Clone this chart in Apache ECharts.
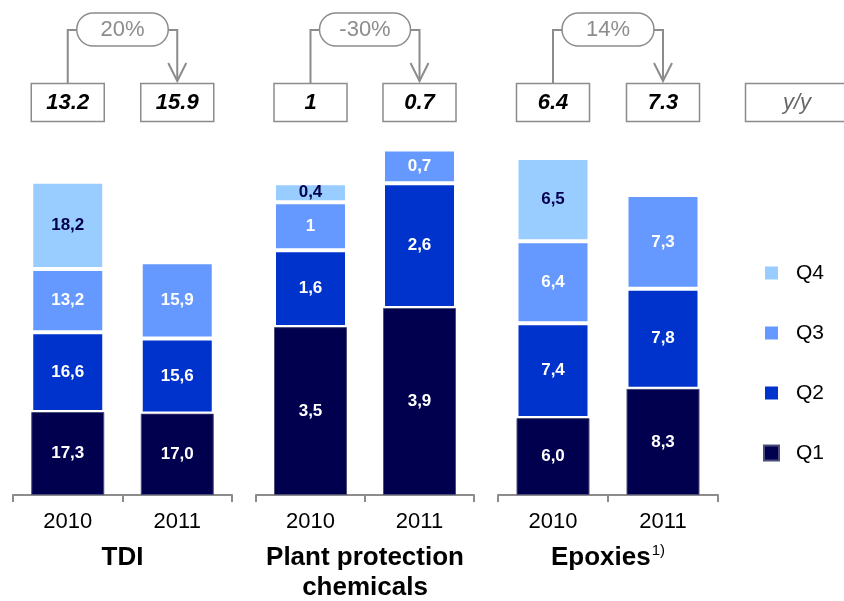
<!DOCTYPE html>
<html>
<head>
<meta charset="utf-8">
<script src="https://cdn.jsdelivr.net/npm/echarts@6/dist/echarts.min.js"></script>
<style>
  html, body { margin: 0; padding: 0; background: #fff; }
  #main { width: 844px; height: 601px; }
</style>
</head>
<body>
<div id="main"></div>
<script>
// data
var years = ['2010', '2011'];
var groupNames = ['TDI', 'Plant protection\nchemicals', 'Epoxies'];
var quarters = ['Q1', 'Q2', 'Q3', 'Q4'];
var q1Values = [[17.3, 17.0], [3.5, 3.9], [6.0, 8.3]];
var q2Values = [[16.6, 15.6], [1.6, 2.6], [7.4, 7.8]];
var q3Values = [[13.2, 15.9], [1, 0.7], [6.4, 7.3]];
var q4Values = [[18.2, null], [0.4, null], [6.5, null]];
var yoyFrom = ['13.2', '1', '6.4'];
var yoyTo = ['15.9', '0.7', '7.3'];
var yoyChange = ['20%', '-30%', '14%'];

var colors = ['#00004f', '#0033cc', '#6699ff', '#99ccff'];
var labelColors = ['#fff', '#fff', '#fff', '#00004f'];
var yMax = [74, 7.4, 27.7];       // each group has its own scale
var labelDecimals = [1, null, 1];
var gridLeft = [13, 256, 498];
var gridWidth = [219, 218, 220];
var gray = '#8c8c8c';
var font = "'Liberation Sans', Arial, sans-serif";

var dom = document.getElementById('main');
var myChart = echarts.init(dom);

var grids = [], xAxes = [], yAxes = [], series = [];
var allValues = [q1Values, q2Values, q3Values, q4Values];

for (var g = 0; g < 3; g++) {
    grids.push({ left: gridLeft[g], width: gridWidth[g], top: 140, height: 355 });
    xAxes.push({
        type: 'category',
        gridIndex: g,
        data: years,
        axisLine: { lineStyle: { color: gray, width: 2 } },
        axisTick: { show: true, interval: 0, length: 7, lineStyle: { color: gray, width: 2 } },
        axisLabel: { color: '#000', fontSize: 22, lineHeight: 22, margin: 16 }
    });
    yAxes.push({
        type: 'value',
        gridIndex: g,
        min: 0,
        max: yMax[g],
        show: false,
        splitLine: { show: false }
    });
    for (var q = 0; q < 4; q++) {
        (function (g, q) {
            series.push({
                name: quarters[q],
                type: 'bar',
                xAxisIndex: g,
                yAxisIndex: g,
                stack: 'g' + g,
                barWidth: 73,
                data: allValues[q][g],
                itemStyle: {
                    color: colors[q],
                    borderColor: q === 0 ? '#4d4d7a' : '#fff',
                    borderWidth: q === 0 ? 1 : 2
                },
                label: {
                    show: true,
                    position: 'inside',
                    color: labelColors[q],
                    fontWeight: 'bold',
                    fontSize: 17,
                    formatter: function (p) {
                        var v = labelDecimals[g] === null ? String(p.value) : p.value.toFixed(labelDecimals[g]);
                        return v.replace('.', ',');
                    }
                },
                emphasis: { disabled: true }
            });
        })(g, q);
    }
}

var option = {
    animation: false,
    textStyle: { fontFamily: font },
    legend: {
        orient: 'vertical',
        left: 758,
        top: 257,
        data: ['Q4', 'Q3', 'Q2', 'Q1'],
        icon: 'rect',
        itemWidth: 15,
        itemHeight: 15,
        itemGap: 38,
        selectedMode: false,
        textStyle: { fontSize: 21, lineHeight: 22, color: '#000', padding: [0, 0, 0, 12] }
    },
    grid: grids,
    xAxis: xAxes,
    yAxis: yAxes,
    series: series
};
myChart.setOption(option, true);

// annotations placed from the axes
var graphics = [];
for (var g = 0; g < 3; g++) {
    var x1 = myChart.convertToPixel({ xAxisIndex: g }, years[0]);
    var x2 = myChart.convertToPixel({ xAxisIndex: g }, years[1]);
    var pl = x1 + 9, pr = x2 - 9;
    [x1, x2].forEach(function (cx, i) {
        graphics.push({
            type: 'rect',
            shape: { x: cx - 36.5, y: 83.5, width: 73, height: 38 },
            style: { fill: '#fff', stroke: gray, lineWidth: 1.5 }
        });
        graphics.push({
            type: 'text',
            x: cx, y: 103,
            style: {
                text: i === 0 ? yoyFrom[g] : yoyTo[g],
                font: 'italic bold 22px ' + font,
                fill: '#000', textAlign: 'center', textVerticalAlign: 'middle'
            }
        });
    });
    graphics.push({
        type: 'polyline',
        shape: { points: [[x1, 83.5], [x1, 30], [pl, 30]] },
        style: { stroke: gray, lineWidth: 2, fill: null }
    });
    graphics.push({
        type: 'polyline',
        shape: { points: [[pr, 30], [x2, 30], [x2, 81]] },
        style: { stroke: gray, lineWidth: 2, fill: null }
    });
    graphics.push({
        type: 'polyline',
        shape: { points: [[x2 - 9, 63], [x2, 81], [x2 + 9, 63]] },
        style: { stroke: gray, lineWidth: 2, fill: null }
    });
    graphics.push({
        type: 'rect',
        shape: { x: pl, y: 13, width: pr - pl, height: 33, r: 16.5 },
        style: { fill: '#fff', stroke: gray, lineWidth: 1.5 }
    });
    graphics.push({
        type: 'text',
        x: (pl + pr) / 2, y: 30,
        style: {
            text: yoyChange[g], font: '22px ' + font,
            fill: gray, textAlign: 'center', textVerticalAlign: 'middle'
        }
    });
    // group title under the axis
    var cx = (x1 + x2) / 2;
    if (g === 2) {
        graphics.push({
            type: 'text',
            x: cx, y: 543,
            style: {
                text: '{a|Epoxies}{s|1)}',
                textAlign: 'center', textVerticalAlign: 'top',
                rich: {
                    a: { font: 'bold 26px ' + font, fill: '#000', lineHeight: 30 },
                    s: { font: '15px ' + font, fill: '#000', lineHeight: 30, padding: [0, 0, 14, 1] }
                }
            }
        });
    } else {
        graphics.push({
            type: 'text',
            x: cx, y: 543,
            style: {
                text: groupNames[g], font: 'bold 26px ' + font, lineHeight: 30,
                fill: '#000', textAlign: 'center', textVerticalAlign: 'top'
            }
        });
    }
}
graphics.push({
    type: 'rect',
    shape: { x: 745.5, y: 83.5, width: 110, height: 38 },
    style: { fill: '#fff', stroke: gray, lineWidth: 1.5 }
});
graphics.push({
    type: 'text',
    x: 797, y: 103,
    style: {
        text: 'y/y', font: 'italic 22px ' + font,
        fill: '#666', textAlign: 'center', textVerticalAlign: 'middle'
    }
});

myChart.setOption({ graphic: graphics });
</script>
</body>
</html>
